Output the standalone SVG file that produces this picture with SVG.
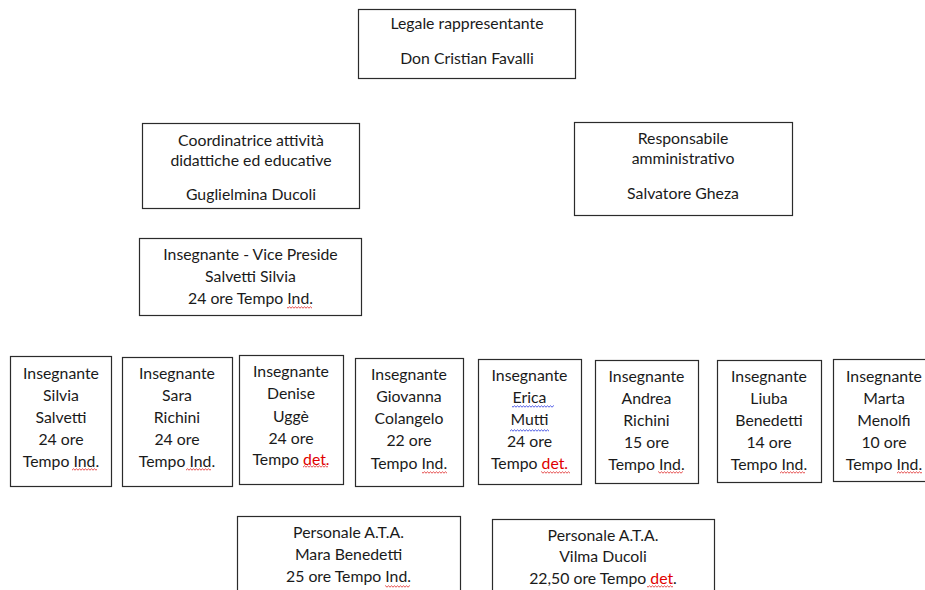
<svg xmlns="http://www.w3.org/2000/svg" width="925" height="590" viewBox="0 0 925 590">
<defs>
<pattern id="wr" x="0" y="0" width="3" height="3" patternUnits="userSpaceOnUse"><path d="M0 2.2 L1.5 0.8 L3 2.2" fill="none" stroke="#e02020" stroke-width="0.8"/></pattern>
<pattern id="wb" x="0" y="0" width="3" height="3" patternUnits="userSpaceOnUse"><path d="M0 2.2 L1.5 0.8 L3 2.2" fill="none" stroke="#2030e0" stroke-width="0.8"/></pattern>
</defs>
<style>
rect{fill:#fff;stroke:#2b2b2b;stroke-width:1.2}
rect.wr{fill:url(#wr);stroke:none}
rect.wb{fill:url(#wb);stroke:none}
text{font-family:Lato,"Liberation Sans",sans-serif;font-size:15.8px;fill:#1a1a1a;text-anchor:middle}
.r{fill:#e00000}
</style>
<rect x="0" y="0" width="925" height="590" style="stroke:none"/>
<g id="connectors"></g>
<g id="legale"><rect x="358.5" y="9.5" width="217" height="69"/><text x="467" y="29">Legale rappresentante</text><text x="467" y="64">Don Cristian Favalli</text></g>
<g id="coordinatrice"><rect x="142.5" y="123.5" width="217" height="85"/><text x="251" y="146">Coordinatrice attività</text><text x="251" y="166">didattiche ed educative</text><text x="251" y="200">Guglielmina Ducoli</text></g>
<g id="responsabile"><rect x="574.5" y="122.5" width="218" height="93"/><text x="683" y="144">Responsabile</text><text x="683" y="164">amministrativo</text><text x="683" y="199">Salvatore Gheza</text></g>
<g id="vicepreside"><rect x="139.5" y="238.5" width="222" height="77"/><text x="250.5" y="260">Insegnante - Vice Preside</text><text x="250.5" y="282">Salvetti Silvia</text><text x="250.5" y="304">24 ore Tempo Ind.</text><rect class="wr" x="287" y="306" width="25" height="3"/></g>
<g id="t1"><rect x="10.5" y="356.5" width="101" height="130"/><text x="61" y="379">Insegnante</text><text x="61" y="401">Silvia</text><text x="61" y="423">Salvetti</text><text x="61" y="445">24 ore</text><text x="61" y="467">Tempo Ind.</text><rect class="wr" x="72" y="468" width="25" height="3"/></g>
<g id="t2"><rect x="122.5" y="357.5" width="110" height="129"/><text x="177" y="379">Insegnante</text><text x="177" y="401">Sara</text><text x="177" y="423">Richini</text><text x="177" y="445">24 ore</text><text x="177" y="467">Tempo Ind.</text><rect class="wr" x="186" y="468" width="25" height="3"/></g>
<g id="t3"><rect x="239.5" y="355.5" width="104" height="129"/><text x="291" y="377">Insegnante</text><text x="291" y="399">Denise</text><text x="291" y="422">Uggè</text><text x="291" y="444">24 ore</text><text x="291" y="465">Tempo <tspan class="r">det.</tspan></text><rect class="wr" x="303" y="465" width="25" height="3"/></g>
<g id="t4"><rect x="355.5" y="358.5" width="108" height="128"/><text x="409" y="380">Insegnante</text><text x="409" y="402">Giovanna</text><text x="409" y="424">Colangelo</text><text x="409" y="446">22 ore</text><text x="409" y="469">Tempo Ind.</text><rect class="wr" x="422" y="471" width="25" height="3"/></g>
<g id="t5"><rect x="478.5" y="359.5" width="103" height="125"/><text x="529.5" y="381">Insegnante</text><text x="529.5" y="403">Erica</text><text x="529.5" y="425">Mutti</text><text x="529.5" y="447">24 ore</text><text x="529.5" y="469">Tempo <tspan class="r">det.</tspan></text><rect class="wb" x="512" y="405" width="42" height="3"/><rect class="wb" x="510" y="429" width="39" height="3"/><rect class="wr" x="541" y="471" width="29" height="3"/></g>
<g id="t6"><rect x="595.5" y="360.5" width="103" height="123"/><text x="646.5" y="382">Insegnante</text><text x="646.5" y="404">Andrea</text><text x="646.5" y="426">Richini</text><text x="646.5" y="448">15 ore</text><text x="646.5" y="470">Tempo Ind.</text><rect class="wr" x="658" y="471" width="25" height="3"/></g>
<g id="t7"><rect x="717.5" y="360.5" width="104" height="122"/><text x="769" y="382">Insegnante</text><text x="769" y="404">Liuba</text><text x="769" y="426">Benedetti</text><text x="769" y="448">14 ore</text><text x="769" y="470">Tempo Ind.</text><rect class="wr" x="780" y="471" width="25" height="3"/></g>
<g id="t8"><rect x="833.5" y="359.5" width="102" height="122"/><text x="884" y="382">Insegnante</text><text x="884" y="404">Marta</text><text x="884" y="426">Menolfi</text><text x="884" y="448">10 ore</text><text x="884" y="470">Tempo Ind.</text><rect class="wr" x="897" y="471" width="25" height="3"/></g>
<g id="ata1"><rect x="237.5" y="516.5" width="223" height="80"/><text x="348.5" y="538">Personale A.T.A.</text><text x="348.5" y="560">Mara Benedetti</text><text x="348.5" y="582">25 ore Tempo Ind.</text><rect class="wr" x="385" y="585" width="25" height="3"/></g>
<g id="ata2"><rect x="492.5" y="519.5" width="222" height="80"/><text x="603" y="541">Personale A.T.A.</text><text x="603" y="562">Vilma Ducoli</text><text x="603" y="584"><tspan>22,50 ore Tempo </tspan><tspan class="r">det</tspan><tspan>.</tspan></text><rect class="wr" x="647" y="585" width="26" height="3"/></g>
</svg>
